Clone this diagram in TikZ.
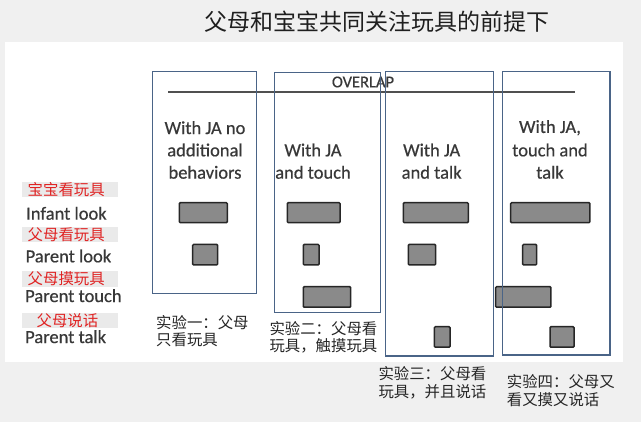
\documentclass[tikz,border=0pt]{standalone}
\usepackage{fontspec}
\setmainfont{Carlito}
\newfontfamily\engfont{Carlito}[FakeBold=0.5]
\newfontfamily\cjk{Noto Sans CJK SC}
\definecolor{bggray}{HTML}{F0F0F0}
\definecolor{lblbg}{HTML}{EAEAEA}
\definecolor{redtxt}{HTML}{E02424}
\definecolor{boxblue}{HTML}{4A6487}
\definecolor{barfill}{HTML}{8A8A8A}
\definecolor{barline}{HTML}{262626}
\definecolor{txtdark}{HTML}{383838}
\definecolor{linegray}{HTML}{505050}
\tikzset{
  colbox/.style={draw=boxblue, line width=1.5pt, inner sep=0pt, outer sep=0pt},
  bar/.style={draw=barline, fill=barfill, line width=1.5pt, rounded corners=1pt, inner sep=0pt, outer sep=0pt},
  hdr/.style={font=\engfont\fontsize{18.5}{22}\selectfont, text=txtdark, inner sep=0pt},
  lbl/.style={font=\engfont\fontsize{18.5}{22}\selectfont, text=txtdark, inner sep=0pt, anchor=west},
  redlbl/.style={font=\cjk\fontsize{15.4}{18}\selectfont, text=redtxt, inner sep=0pt},
  lblbox/.style={fill=lblbg, inner sep=0pt, minimum width=96.6pt, minimum height=15.6pt},
  captxt/.style={font=\cjk\fontsize{15.4}{18}\selectfont, text=black!85, inner sep=0pt, anchor=west},
}
\begin{document}
\begin{tikzpicture}[x=1pt,y=-1pt]
\useasboundingbox (0,0) rectangle (641,422);
\fill[bggray] (0,0) rectangle (641,422);
\fill[white] (5,42) rectangle (623,362);

% title
\node[font=\cjk\fontsize{23}{26}\selectfont, text=black!88, inner sep=0pt] (title) at (376.7,21.7) {父母和宝宝共同关注玩具的前提下};

% left labels
\node[lblbox] (lb1) at (70,189.5) {};
\node[redlbl] (r1) at (66.2,189.5) {宝宝看玩具};
\node[lbl] (e1) at (26,213.3) {Infant look};
\node[lblbox] (lb2) at (70,234.7) {};
\node[redlbl] (r2) at (66.2,235) {父母看玩具};
\node[lbl] (e2) at (25.5,256) {Parent look};
\node[lblbox] (lb3) at (70,278.8) {};
\node[redlbl] (r3) at (66.2,279) {父母摸玩具};
\node[lbl] (e3) at (25,295.7) {Parent touch};
\node[lblbox] (lb4) at (70,320.5) {};
\node[redlbl] (r4) at (67.5,321) {父母说话};
\node[lbl] (e4) at (25,336.7) {Parent talk};

% headers
\node[hdr] (h1a) at (205,127.7) {With JA no};
\node[hdr] (h1b) at (205,150) {additional};
\node[hdr] (h1c) at (205,172.3) {behaviors};
\node[hdr] (h2a) at (313,150) {With JA};
\node[hdr] (h2b) at (313,172.3) {and touch};
\node[hdr] (h3a) at (431.7,150) {With JA};
\node[hdr] (h3b) at (431.7,172.3) {and talk};
\node[hdr] (h4a) at (550,127.7) {With JA,};
\node[hdr] (h4b) at (550,150) {touch and};
\node[hdr] (h4c) at (550,172.3) {talk};

% bars row 1
\node[bar, minimum width=48pt, minimum height=20pt] (b11) at (203.3,212.7) {};
\node[bar, minimum width=52.7pt, minimum height=20pt] (b12) at (313.7,212.7) {};
\node[bar, minimum width=65pt, minimum height=20pt] (b13) at (435.8,212.7) {};
\node[bar, minimum width=79.3pt, minimum height=20pt] (b14) at (550.3,212.7) {};
% row 2
\node[bar, minimum width=25pt, minimum height=20.5pt] (b21) at (205.2,254.7) {};
\node[bar, minimum width=15.7pt, minimum height=20.5pt] (b22) at (311.2,254.7) {};
\node[bar, minimum width=27.4pt, minimum height=20.5pt] (b23) at (422,254.7) {};
\node[bar, minimum width=14pt, minimum height=20.5pt] (b24) at (529.7,254.7) {};
% row 3
\node[bar, minimum width=47.4pt, minimum height=20.5pt] (b32) at (327,297) {};
\node[bar, minimum width=55.3pt, minimum height=20.5pt] (b34) at (523.3,297) {};
% row 4
\node[bar, minimum width=15.7pt, minimum height=20.5pt] (b43) at (442.2,337) {};
\node[bar, minimum width=24pt, minimum height=20.5pt] (b44) at (562,337) {};

% overlap line
\coordinate (ovl) at (168.3,92.3);
\coordinate (ovr) at (575,92.3);
\draw[linegray, line width=2pt] (ovl) -- (ovr);
\node[font=\engfont\fontsize{16.5}{19}\selectfont, text=txtdark, inner sep=0pt] (ovt) at (363,82) {OVERLAP};

% column boxes
\node[colbox, minimum width=104pt, minimum height=221.6pt] (box1) at (204.3,182.5) {};
\node[colbox, minimum width=106pt, minimum height=240pt] (box2) at (327.3,192.3) {};
\node[colbox, minimum width=108pt, minimum height=284.3pt] (box3) at (439.3,213.9) {};
\node[colbox, minimum width=107.3pt, minimum height=283.3pt] (box4) at (556.3,213.3) {};

% captions
\node[captxt] (c1a) at (156,322.8) {实验一：父母};
\node[captxt] (c1b) at (156,339.3) {只看玩具};
\node[captxt] (c2a) at (269.3,328.3) {实验二：父母看};
\node[captxt] (c2b) at (269.3,345.5) {玩具，触摸玩具};
\node[captxt] (c3a) at (378.3,373.3) {实验三：父母看};
\node[captxt] (c3b) at (378.3,391.5) {玩具，并且说话};
\node[captxt] (c4a) at (506.7,381.7) {实验四：父母又};
\node[captxt] (c4b) at (506.7,399.8) {看又摸又说话};
\end{tikzpicture}
\end{document}
